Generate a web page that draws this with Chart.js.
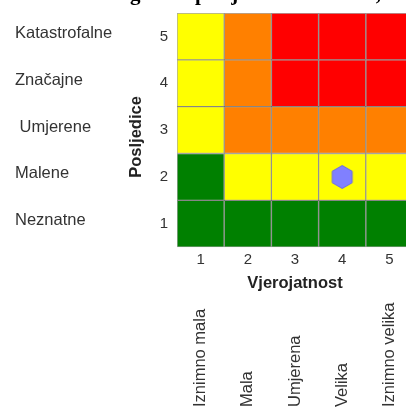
<!DOCTYPE html>
<html>
<head>
<meta charset="utf-8">
<script src="https://cdn.jsdelivr.net/npm/chart.js@4"></script>
<style>
    html, body { margin: 0; padding: 0; background: #fff; overflow: hidden; }
    #wrap { width: 414px; height: 410px; position: relative; }
</style>
</head>
<body>
<div id="wrap"><canvas id="matrica"></canvas></div>
<script>
// Oznake osi
const vjerojatnost = ['1', '2', '3', '4', '5'];
const posljedice = [1, 2, 3, 4, 5];
const vjerojatnostOpis = ['Iznimno mala', 'Mala', 'Umjerena', 'Velika', 'Iznimno velika'];
const posljediceOpis = ['Katastrofalne', 'Značajne', ' Umjerene', 'Malene', 'Neznatne']; // od 5 prema 1

// Razina rizika po retku (stupci 1..5): 1 = nizak, 4 = visok
const red1 = [1, 1, 1, 1, 1];
const red2 = [1, 2, 2, 2, 2];
const red3 = [2, 3, 3, 3, 3];
const red4 = [2, 3, 4, 4, 4];
const red5 = [2, 3, 4, 4, 4];
const boje = ['#008000', '#ffff00', '#ff8000', '#ff0000'];

// Procijenjeni rizik (šesterokut)
const rizikX = ['4'];
const rizikY = [2];

// Naslov je u izvorniku gotovo sasvim odrezan
const naslov = 'Slika 2. Određivanje razine rizika: ugroze i posljedica – matrica,';

// Šesterokut kao oznaka točke
function sesterokut() {
    const c = document.createElement('canvas');
    c.width = 24;
    c.height = 26;
    const g = c.getContext('2d');
    g.beginPath();
    for (let k = 0; k < 6; k++) {
        const a = Math.PI / 3 * k - Math.PI / 2;
        const px = 12 + 11.5 * Math.cos(a);
        const py = 13 + 11.5 * Math.sin(a);
        if (k === 0) g.moveTo(px, py); else g.lineTo(px, py);
    }
    g.closePath();
    g.fillStyle = '#8080ff';
    g.fill();
    g.strokeStyle = '#6a6ae6';
    g.lineWidth = 1;
    g.stroke();
    return c;
}

// Svaki redak je jedan skup plutajućih stupaca
const redovi = [red1, red2, red3, red4, red5];
const datasets = redovi.map((red, i) => ({
    type: 'bar',
    data: red.map(() => [i + 0.5, i + 1.5]),
    backgroundColor: red.map(r => boje[r - 1]),
    borderColor: 'rgba(0, 0, 0, 0.35)',
    borderWidth: 1,
    borderSkipped: false,
    barPercentage: 1,
    categoryPercentage: 1,
    grouped: false,
    order: 2
}));

datasets.push({
    type: 'line',
    data: rizikX.map((x, i) => ({ x: x, y: rizikY[i] })),
    showLine: false,
    pointStyle: sesterokut(),
    pointRadius: 12,
    order: 1
});

// Okomite oznake ispod osi x i odrezani naslov na vrhu
const opisPlugin = {
    id: 'opis',
    afterDraw(chart) {
        const ctx = chart.ctx;
        const sx = chart.scales.x2;
        ctx.save();
        ctx.fillStyle = '#333';
        ctx.font = '16.5px "Liberation Sans", Arial, sans-serif';
        ctx.textAlign = 'left';
        ctx.textBaseline = 'middle';
        vjerojatnostOpis.forEach((t, i) => {
            ctx.save();
            ctx.translate(sx.getPixelForValue(i), sx.bottom - 3);
            ctx.rotate(-Math.PI / 2);
            ctx.fillText(t, 0, 0);
            ctx.restore();
        });

        ctx.font = 'bold 21px "Liberation Serif", "Times New Roman", serif';
        ctx.fillStyle = '#000';
        ctx.textBaseline = 'alphabetic';
        const dio = naslov.slice(0, naslov.indexOf('posljedica'));
        const x0 = 195 - ctx.measureText(dio).width;
        ctx.fillText(naslov, x0, 0);
        ctx.restore();
    }
};

// bez dodatnog razmaka oko osi
const bezRuba = s => { s.paddingTop = 0; s.paddingBottom = 0; s.paddingLeft = 0; s.paddingRight = 0; };

Chart.defaults.font.family = '"Liberation Sans", Arial, sans-serif';

new Chart(document.getElementById('matrica'), {
    type: 'bar',
    data: { labels: vjerojatnost, datasets: datasets },
    options: {
        responsive: true,
        maintainAspectRatio: false,
        animation: false,
        layout: { autoPadding: false, padding: { top: 13, left: 15, right: 1, bottom: 0 } },
        plugins: {
            legend: { display: false },
            tooltip: { enabled: false },
            title: { display: false }
        },
        scales: {
            x: {
                type: 'category',
                labels: vjerojatnost,
                offset: true,
                weight: 0,
                grid: { display: false, drawTicks: false },
                border: { display: false },
                ticks: { color: '#333', font: { size: 15 }, padding: 4 },
                title: {
                    display: true,
                    text: 'Vjerojatnost',
                    color: '#222',
                    font: { size: 16.5, weight: 'bold' },
                    padding: { top: 0, bottom: 0 }
                },
                afterFit: bezRuba
            },
            x2: {
                type: 'category',
                labels: vjerojatnostOpis,
                position: 'bottom',
                offset: true,
                weight: 1,
                grid: { display: false, drawTicks: false },
                border: { display: false },
                ticks: { display: false },
                afterFit: s => { bezRuba(s); s.height = 117; }
            },
            y: {
                type: 'linear',
                position: 'left',
                min: 0.5,
                max: 5.5,
                weight: 0,
                grid: { display: false, drawTicks: false },
                border: { display: false },
                afterBuildTicks: s => { s.ticks = posljedice.map(v => ({ value: v })); },
                ticks: { padding: 9, color: '#333', font: { size: 15 } },
                title: {
                    display: true,
                    text: 'Posljedice   ',
                    color: '#222',
                    font: { size: 16.5, weight: 'bold' },
                    padding: { top: 2, bottom: 0 }
                },
                afterFit: s => { bezRuba(s); s.width = 52; }
            },
            y2: {
                type: 'category',
                labels: posljediceOpis,
                position: 'left',
                offset: true,
                weight: 1,
                grid: { display: false, drawTicks: false },
                border: { display: false },
                ticks: { crossAlign: 'far', color: '#333', font: { size: 16.5 }, labelOffset: -3 },
                afterFit: s => { bezRuba(s); s.width = 110; }
            }
        }
    },
    plugins: [opisPlugin]
});
</script>
</body>
</html>
